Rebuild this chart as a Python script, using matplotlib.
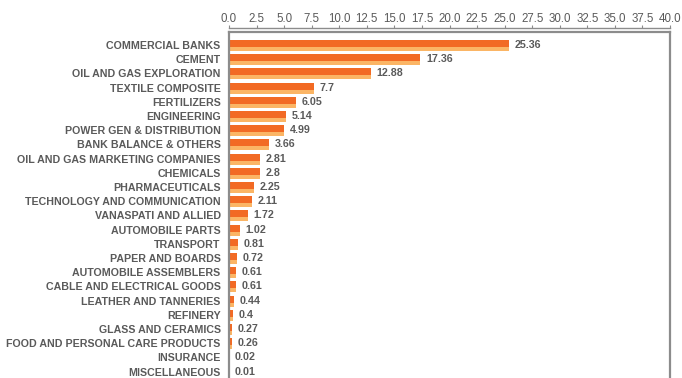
"""
Sector weights bar chart (horizontal, two-tone bars, axis on top)
"""

import matplotlib
matplotlib.use('Agg')
import matplotlib.pyplot as plt
import numpy as np

# Data
sectors = [
    'COMMERCIAL BANKS', 'CEMENT', 'OIL AND GAS EXPLORATION', 'TEXTILE COMPOSITE',
    'FERTILIZERS', 'ENGINEERING', 'POWER GEN & DISTRIBUTION', 'BANK BALANCE & OTHERS',
    'OIL AND GAS MARKETING COMPANIES', 'CHEMICALS', 'PHARMACEUTICALS',
    'TECHNOLOGY AND COMMUNICATION', 'VANASPATI AND ALLIED', 'AUTOMOBILE PARTS',
    'TRANSPORT', 'PAPER AND BOARDS', 'AUTOMOBILE ASSEMBLERS',
    'CABLE AND ELECTRICAL GOODS', 'LEATHER AND TANNERIES', 'REFINERY',
    'GLASS AND CERAMICS', 'FOOD AND PERSONAL CARE PRODUCTS', 'INSURANCE',
    'MISCELLANEOUS',
]
weights = [25.36, 17.36, 12.88, 7.7, 6.05, 5.14, 4.99, 3.66, 2.81, 2.8, 2.25,
           2.11, 1.72, 1.02, 0.81, 0.72, 0.61, 0.61, 0.44, 0.4, 0.27, 0.26,
           0.02, 0.01]
weight_labels = ['25.36', '17.36', '12.88', '7.7', '6.05', '5.14', '4.99', '3.66',
                 '2.81', '2.8', '2.25', '2.11', '1.72', '1.02', '0.81', '0.72',
                 '0.61', '0.61', '0.44', '0.4', '0.27', '0.26', '0.02', '0.01']
x_ticks = np.arange(0, 40.01, 2.5)

DARK = '#F26A24'
LIGHT = '#FBB565'
TEXT = '#5A5A5A'
FRAME = '#8C8C8C'

plt.rcParams['font.family'] = ['Liberation Sans', 'DejaVu Sans']

fig = plt.figure(figsize=(6.82, 3.78), dpi=100)

# row pitch ~14.2 px; frame top at y=32 px, runs past the image bottom
row_px = 14.2
top_pad = 0.915
n_rows = len(sectors)
ax_h_px = (n_rows + top_pad) * row_px
ax = fig.add_axes([229 / 682, 1 - (32 + ax_h_px) / 378, 441 / 682, ax_h_px / 378])

y = np.arange(n_rows)

# two-tone bars: dark upper part, light lower part
ax.barh(y - 0.105, weights, height=0.49, color=DARK, linewidth=0)
ax.barh(y + 0.28, weights, height=0.28, color=LIGHT, linewidth=0)

for yi, w, lab in zip(y, weights, weight_labels):
    ax.annotate(lab, (w, yi), xytext=(4, 0), textcoords='offset points',
                va='center', ha='left', fontsize=7.7, color=TEXT, fontweight='bold')

ax.set_xlim(0, 40)
ax.set_ylim(n_rows, -top_pad)
ax.set_yticks(y)
ax.set_yticklabels(sectors, fontsize=7.7, color=TEXT, fontweight='bold')
ax.tick_params(axis='y', length=0, pad=6)
ax.set_xticks([])

for side in ['left', 'right', 'top', 'bottom']:
    ax.spines[side].set_color(FRAME)
    ax.spines[side].set_linewidth(1.6)

# tick axis sits a little above the frame
sec = ax.secondary_xaxis(1 + 4 / ax_h_px)
sec.set_xticks(x_ticks)
sec.set_xticklabels([f'{v:.1f}' for v in x_ticks], fontsize=8.3, color=TEXT)
sec.tick_params(axis='x', length=2, width=0.8, color=FRAME, pad=0.5, direction='out')
sec.spines['top'].set_color(FRAME)
sec.spines['top'].set_linewidth(1.0)

fig.savefig('out.png', dpi=100)
